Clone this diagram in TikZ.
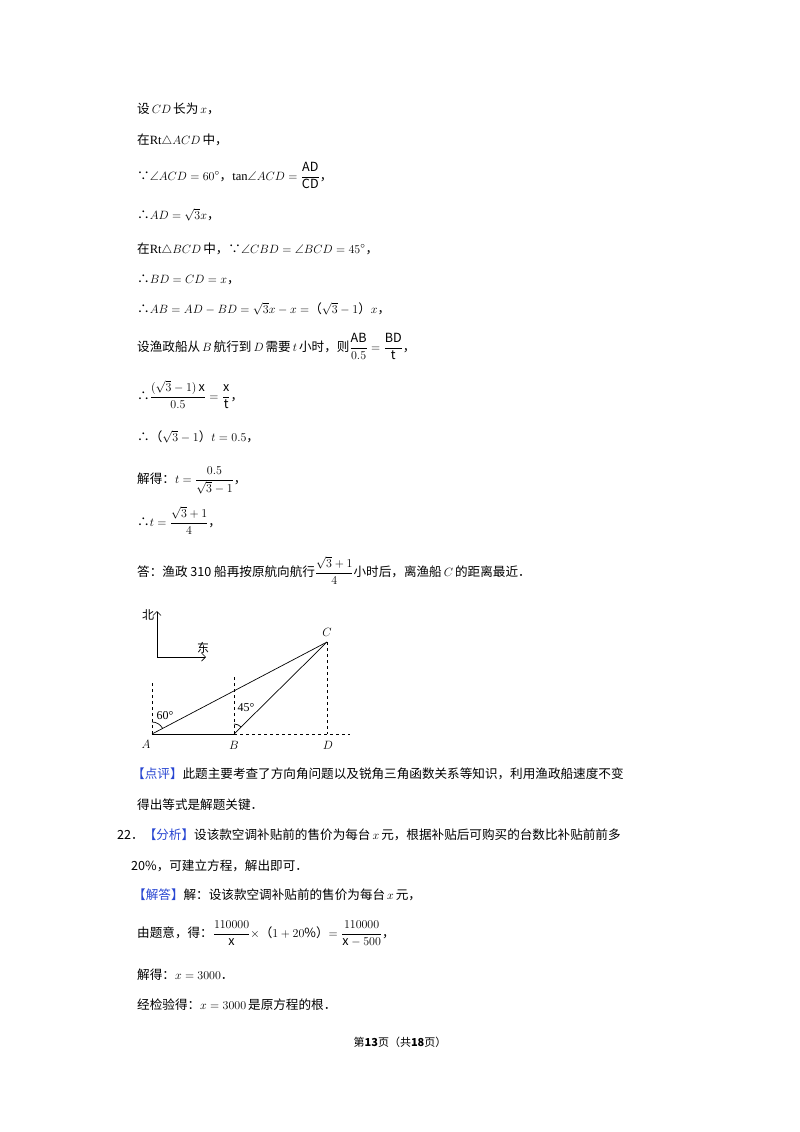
\documentclass[tikz,border=0pt]{standalone}
\usepackage{amsmath,amssymb}
\usepackage{fontspec}
\setmainfont{Noto Sans CJK SC}
\newfontfamily\serif{Liberation Serif}
\usetikzlibrary{arrows.meta}
\definecolor{hl}{RGB}{40,70,210}
\newcommand{\hb}[1]{\textcolor{hl}{【#1】}}
\begin{document}
\begin{tikzpicture}[x=1pt,y=-1pt,
  tx/.style={anchor=base west,inner sep=0pt,font=\fontsize{12.6}{15}\selectfont},
  lb/.style={inner sep=0pt,font=\fontsize{12}{14}\selectfont},
  ln/.style={line width=0.7pt},
  dl/.style={line width=0.6pt,dash pattern=on 3pt off 3pt}]
\useasboundingbox (0,0) rectangle (800,1132);
\fill[white] (0,0) rectangle (800,1132);
\node[tx] (l1) at (137,113) {设$\,CD\,$长为$\,x$，};
\node[tx] (l2) at (137,144) {在{\serif Rt}$\triangle ACD\,$中，};
\node[tx] (l3) at (137,180) {∵$\angle ACD=60^\circ$，{\serif tan}$\angle ACD=\dfrac{\mathrm{AD}}{\mathrm{CD}}$，};
\node[tx] (l4) at (137,219) {∴$AD=\sqrt{3}x$，};
\node[tx] (l5) at (137,253) {在{\serif Rt}$\triangle BCD\,$中，∵$\angle CBD=\angle BCD=45^\circ$，};
\node[tx] (l6) at (137,283) {∴$BD=CD=x$，};
\node[tx] (l7) at (137,313) {∴$AB=AD-BD=\sqrt{3}x-x=$（$\sqrt{3}-1$）$x$，};
\node[tx] (l8) at (137,351) {设渔政船从$\,B\,$航行到$\,D\,$需要$\,t\,$小时，则$\dfrac{\mathrm{AB}}{0.5}=\dfrac{\mathrm{BD}}{\mathrm{t}}$，};
\node[tx] (l9) at (137,400) {∴$\dfrac{(\sqrt{3}-1)\,\mathrm{x}}{0.5}=\dfrac{\mathrm{x}}{\mathrm{t}}$，};
\node[tx] (l10) at (137,441) {∴（$\sqrt{3}-1$）$t=0.5$，};
\node[tx] (l11) at (137,483) {解得：$t=\dfrac{0.5}{\sqrt{3}-1}$，};
\node[tx] (l12) at (137,526) {∴$t=\dfrac{\sqrt{3}+1}{4}$，};
\node[tx] (l13) at (137,576) {答：渔政 310 船再按原航向航行$\dfrac{\sqrt{3}+1}{4}$小时后，离渔船$\,C\,$的距离最近．};
% diagram
\coordinate (A) at (152,734);
\coordinate (B) at (234,734);
\coordinate (C) at (327,642);
\coordinate (D) at (327,734);
\coordinate (An) at (152,681);
\coordinate (Bn) at (234,677);
\coordinate (E) at (350,734);
\coordinate (O) at (157,657);
\coordinate (N) at (157,611);
\coordinate (Ea) at (206,657);
\draw[ln] (A) -- (B);
\draw[ln] (A) -- (C);
\draw[ln] (B) -- (C);
\draw[dl] (A) -- (An);
\draw[dl] (B) -- (Bn);
\draw[dl] (C) -- (D);
\draw[dl] (B) -- (E);
\draw[ln] (152,722) arc[start angle=-90,end angle=-28,radius=12];
\draw[ln] (234,724) arc[start angle=-90,end angle=-45,radius=10];
\draw[ln,-{Straight Barb[length=4pt]}] (O) -- (N);
\draw[ln,-{Straight Barb[length=4pt]}] (O) -- (Ea);
\node[lb] (bei) at (148,615) {北};
\node[lb] (dong) at (203,648) {东};
\node[lb,font=\serif\fontsize{12}{14}\selectfont] (a60) at (165,716) {60°};
\node[lb,font=\serif\fontsize{12}{14}\selectfont] (a45) at (246,708) {45°};
\node[lb] (lA) at (146,744) {$A$};
\node[lb] (lB) at (234,745) {$B$};
\node[lb] (lC) at (327,632) {$C$};
\node[lb] (lD) at (328,745) {$D$};
% bottom part
\node[tx] (p1) at (132,778) {\hb{点评}此题主要考查了方向角问题以及锐角三角函数关系等知识，利用渔政船速度不变};
\node[tx] (p2) at (137,809) {得出等式是解题关键．};
\node[tx] (p3) at (117,839) {22．\hb{分析}设该款空调补贴前的售价为每台$\,x\,$元，根据补贴后可购买的台数比补贴前前多};
\node[tx] (p4) at (131,870) {20\%，可建立方程，解出即可．};
\node[tx] (p5) at (133,899) {\hb{解答}解：设该款空调补贴前的售价为每台$\,x\,$元，};
\node[tx] (p6) at (137,937) {由题意，得：$\dfrac{110000}{\mathrm{x}}\times$（$1+20\%$）$=\dfrac{110000}{\mathrm{x}-500}$，};
\node[tx] (p7) at (137,979) {解得：$x=3000$．};
\node[tx] (p8) at (137,1009) {经检验得：$x=3000\,$是原方程的根．};
\node[tx,anchor=base,font=\fontsize{11}{13}\selectfont] (ft) at (400,1046) {第\textbf{13}页（共\textbf{18}页）};
\end{tikzpicture}
\end{document}
